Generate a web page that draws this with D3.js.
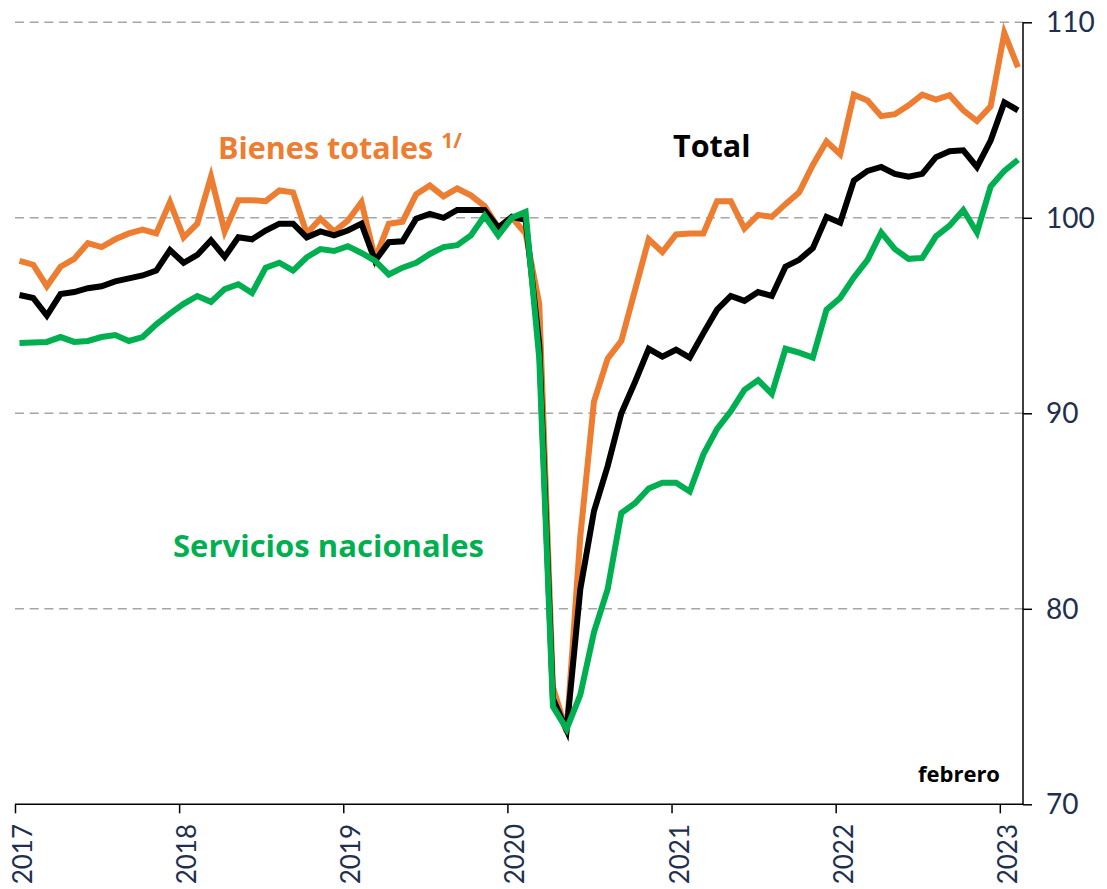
<!DOCTYPE html>
<html>
<head>
<meta charset="utf-8">
<script src="https://cdn.jsdelivr.net/npm/d3@7"></script>
<style>
  html, body { margin: 0; padding: 0; background: #fff; }
  svg { display: block; }
</style>
</head>
<body>
<div id="chart"></div>
<script>
// Monthly index, Jan 2017 .. Feb 2023 (74 months)
const monthCount = 74;

const years = ["2017", "2018", "2019", "2020", "2021", "2022", "2023"];
const yTicks = [70, 80, 90, 100, 110];
const gridValues = [80, 90, 100, 110];

const bienesTotales = [
  97.8, 97.6, 96.5, 97.5, 97.9, 98.7, 98.5, 98.9, 99.2, 99.4, 99.2, 100.8,
  99.0, 99.7, 102.1, 99.3, 100.9, 100.9, 100.85, 101.4, 101.3, 99.2, 99.95, 99.3,
  99.85, 100.8, 97.9, 99.7, 99.8, 101.2, 101.65, 101.1, 101.5, 101.15, 100.6, 99.5,
  100.0, 99.2, 95.6, 76.0, 73.7, 83.7, 90.6, 92.8, 93.7, 96.3, 98.9, 98.25,
  99.15, 99.2, 99.2, 100.85, 100.85, 99.45, 100.15, 100.05, 100.7, 101.3, 102.7, 103.9,
  103.25, 106.3, 106.0, 105.2, 105.3, 105.75, 106.3, 106.05, 106.27, 105.5, 104.95, 105.7,
  109.45, 107.7
];

const total = [
  96.05, 95.9, 95.0, 96.1, 96.2, 96.4, 96.5, 96.75, 96.9, 97.05, 97.3, 98.35,
  97.7, 98.1, 98.85, 98.0, 99.0, 98.9, 99.35, 99.7, 99.7, 99.0, 99.3, 99.1,
  99.35, 99.7, 97.8, 98.75, 98.8, 99.95, 100.2, 100.0, 100.4, 100.4, 100.4, 99.5,
  100.05, 99.9, 93.5, 75.4, 73.8, 81.0, 85.0, 87.3, 90.0, 91.6, 93.3, 92.9,
  93.25, 92.85, 94.1, 95.3, 96.0, 95.75, 96.2, 96.0, 97.5, 97.85, 98.45, 100.05,
  99.75, 101.9, 102.4, 102.6, 102.25, 102.1, 102.25, 103.1, 103.4, 103.45, 102.6, 103.95,
  105.9, 105.5
];

const serviciosNacionales = [
  93.6, 93.62, 93.65, 93.9, 93.65, 93.7, 93.9, 94.0, 93.7, 93.9, 94.55, 95.1,
  95.6, 96.0, 95.7, 96.35, 96.6, 96.15, 97.45, 97.7, 97.3, 97.98, 98.4, 98.3,
  98.55, 98.2, 97.8, 97.1, 97.45, 97.7, 98.15, 98.5, 98.6, 99.1, 100.1, 99.1,
  100.0, 100.3, 92.8, 75.0, 73.85, 75.6, 78.8, 81.0, 84.9, 85.4, 86.15, 86.45,
  86.45, 86.0, 87.9, 89.2, 90.1, 91.2, 91.7, 91.0, 93.3, 93.1, 92.85, 95.3,
  95.9, 96.95, 97.85, 99.25, 98.4, 97.9, 97.95, 99.05, 99.6, 100.4, 99.25, 101.6,
  102.4, 102.97
];

const seriesNames = ["Bienes totales", "Total", "Servicios nacionales"];
const seriesColors = ["#ED7D31", "#000000", "#00B050"];

const W = 1107, H = 889;
const svg = d3.select("#chart").append("svg")
  .attr("width", W).attr("height", H)
  .attr("viewBox", `0 0 ${W} ${H}`);

svg.append("rect").attr("width", W).attr("height", H).attr("fill", "#fff");

const plotLeft = 15, plotRight = 1023, plotTop = 22.3, plotBottom = 804.3;

const x = d3.scaleLinear().domain([0, monthCount - 1]).range([19.5, 1018]);
const y = d3.scaleLinear().domain([70, 110]).range([plotBottom, plotTop]);

// grid
svg.append("g").selectAll("line").data(gridValues).join("line")
  .attr("x1", plotLeft).attr("x2", plotRight)
  .attr("y1", d => y(d)).attr("y2", d => y(d))
  .attr("stroke", "#a6a6a6").attr("stroke-width", 1.5)
  .attr("stroke-dasharray", "9,5.7");

// x axis (year ticks at start of each year)
const yearTickVals = years.map((d, i) => i * 12 - 0.33);
const xAxis = d3.axisBottom(x).tickValues(yearTickVals).tickSize(9).tickFormat("");
const gx = svg.append("g").attr("transform", `translate(0,${plotBottom})`).call(xAxis);
gx.select(".domain").attr("d", `M${plotLeft},0H${plotRight}`).attr("stroke", "#000").attr("stroke-width", 1.5);
gx.selectAll(".tick line").attr("stroke", "#000").attr("stroke-width", 1.5);

svg.append("g").selectAll("text").data(years).join("text")
  .attr("transform", (d, i) => `translate(${x(yearTickVals[i]) + 17},824) rotate(-90)`)
  .attr("text-anchor", "end")
  .attr("font-family", "Lato, 'Open Sans', sans-serif")
  .attr("font-size", 26)
  .attr("fill", "#1f2f4f")
  .text(d => d);

// y axis on the right
const yAxis = d3.axisRight(y).tickValues(yTicks).tickSize(9).tickFormat("");
const gy = svg.append("g").attr("transform", `translate(${plotRight},0)`).call(yAxis);
gy.select(".domain").attr("d", `M0,${plotTop}V${plotBottom}`).attr("stroke", "#000").attr("stroke-width", 1.5);
gy.selectAll(".tick line").attr("stroke", "#000").attr("stroke-width", 1.5);

svg.append("g").selectAll("text").data(yTicks).join("text")
  .attr("x", 1046).attr("y", d => y(d)).attr("dy", "0.36em")
  .attr("font-family", "Lato, 'Open Sans', sans-serif")
  .attr("font-size", 28)
  .attr("fill", "#1f2f4f")
  .text(d => d);

// lines
const line = d3.line().x((d, i) => x(i)).y(d => y(d));
const allSeries = [bienesTotales, total, serviciosNacionales];
svg.append("g").selectAll("path").data(allSeries).join("path")
  .attr("d", d => line(d))
  .attr("fill", "none")
  .attr("stroke", (d, i) => seriesColors[i])
  .attr("stroke-width", 6)
  .attr("stroke-linejoin", "miter")
  .attr("stroke-linecap", "butt");

// labels
const labFont = "'Open Sans', Lato, sans-serif";
const bt = svg.append("text").attr("x", 218).attr("y", 159)
  .attr("font-family", labFont).attr("font-weight", "bold").attr("font-size", 30.5)
  .attr("fill", seriesColors[0]);
bt.append("tspan").text(seriesNames[0] + " ");
bt.append("tspan").attr("font-size", 21).attr("dy", -11).text("1/");

svg.append("text").attr("x", 673).attr("y", 157)
  .attr("font-family", labFont).attr("font-weight", "bold").attr("font-size", 30.5)
  .attr("fill", seriesColors[1]).text(seriesNames[1]);

svg.append("text").attr("x", 173).attr("y", 557)
  .attr("font-family", labFont).attr("font-weight", "bold").attr("font-size", 31)
  .attr("fill", seriesColors[2]).attr("textLength", 311).attr("lengthAdjust", "spacing")
  .text(seriesNames[2]);

svg.append("text").attr("x", 1000).attr("y", 782).attr("text-anchor", "end")
  .attr("font-family", labFont).attr("font-weight", "bold").attr("font-size", 22)
  .attr("fill", "#000").text("febrero");
</script>
</body>
</html>
